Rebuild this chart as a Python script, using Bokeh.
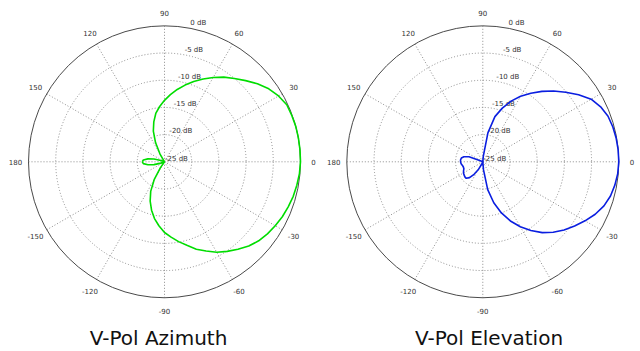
import numpy as np
from bokeh.plotting import figure
from bokeh.layouts import row
from bokeh.models import Label, Range1d
from bokeh.core.properties import value
from bokeh.embed import file_html
from bokeh.resources import INLINE

# ---------------- data ----------------
angles_deg = list(range(-180, 180, 5))

az_db = [
    -20.9, -21.1, -21.9, -23.0, -24.3, -25.6, -27.0, -29.0, -31.0, -30.0,   # -180 .. -135
    -26.0, -23.7, -21.2, -19.0, -17.3, -15.8, -14.4, -13.2, -12.0, -11.1,   # -130 .. -85
    -10.1, -9.1, -7.9, -6.9, -5.8, -4.9, -4.0, -3.1, -2.4, -1.9,            # -80 .. -35
    -1.5, -1.1, -0.8, -0.5, -0.3, -0.1,                                      # -30 .. -5
    0.0, 0.0, 0.0, 0.0, -0.1, -0.2, -0.8, -1.6, -2.7, -3.9,                  # 0 .. 45
    -5.0, -6.0, -7.1, -8.2, -9.3, -10.4, -11.5, -12.6, -13.7, -14.8,        # 50 .. 95
    -15.9, -17.4, -19.0, -21.1, -23.3, -26.0, -30.0, -32.0, -30.0, -28.0,   # 100 .. 145
    -26.5, -25.2, -24.3, -23.0, -21.9, -21.1,                                # 150 .. 175
]

el_db = [
    -20.9, -21.0, -21.2, -21.3, -21.3, -21.1, -20.9, -20.8, -20.7, -20.7,   # -180 .. -135
    -21.2, -22.2, -23.3, -24.5, -26.0, -28.0, -30.0, -31.0, -27.0, -23.5,   # -130 .. -85
    -19.8, -17.2, -15.0, -13.0, -11.2, -9.6, -8.0, -6.7, -5.5, -4.4,        # -80 .. -35
    -3.3, -2.2, -1.3, -0.7, -0.35, -0.1,                                     # -30 .. -5
    0.0, -0.02, -0.1, -0.25, -0.5, -1.1, -2.0, -3.5, -5.1, -6.6,            # 0 .. 45
    -8.1, -9.6, -11.1, -12.7, -14.5, -16.4, -19.6, -24.0, -28.0, -31.0,     # 50 .. 95
    -32.0, -33.0, -33.0, -32.0, -31.0, -30.0, -30.0, -29.0, -28.0, -27.0,   # 100 .. 145
    -26.0, -24.5, -22.3, -21.4, -21.0, -20.9,                                # 150 .. 175
]

ring_db = [0, -5, -10, -15, -20, -25]
ring_labels = ["0 dB", "-5 dB", "-10 dB", "-15 dB", "-20 dB", "-25 dB"]
spoke_deg = [0, 30, 60, 90, 120, 150, 180, -150, -120, -90, -60, -30]
spoke_labels = ["0", "30", "60", "90", "120", "150", "180", "-150", "-120", "-90", "-60", "-30"]
titles = ["V-Pol Azimuth", "V-Pol Elevation"]
db_floor = -25.0

# ---------------- layout ----------------
W, H = 320, 351
SCALE = 5.44          # pixels per dB of radius
CY = 161.3            # pixel row of the plot centre
FONT = "DejaVu Sans"


def panel(db, color, title, cx, title_dx):
    x0 = -cx / SCALE
    x1 = (W - cx) / SCALE
    y1 = CY / SCALE
    y0 = -(H - CY) / SCALE
    p = figure(width=W, height=H, output_backend="svg", toolbar_location=None,
               x_range=Range1d(x0, x1), y_range=Range1d(y0, y1),
               x_axis_location=None, y_axis_location=None,
               min_border=0, outline_line_color=None,
               background_fill_color="white", border_fill_color="white")
    p.grid.visible = False

    rmax = -db_floor
    # dotted rings
    rings = [d - db_floor for d in ring_db if d - db_floor > 0 and d < 0]
    p.circle(x=[0] * len(rings), y=[0] * len(rings), radius=rings,
             fill_color=None, line_color="#8c8c8c", line_dash="1 2", line_width=1)
    # spokes
    th = np.deg2rad(spoke_deg)
    p.segment(x0=[0] * len(th), y0=[0] * len(th),
              x1=list(rmax * np.cos(th)), y1=list(rmax * np.sin(th)),
              line_color="#8c8c8c", line_dash="1 2", line_width=1)
    # outer circle
    p.circle(x=[0], y=[0], radius=[rmax], fill_color=None,
             line_color="#4a4a4a", line_width=1)

    # angle labels
    rl = 27.4
    p.text(x=list(rl * np.cos(th)), y=list(rl * np.sin(th)), text=spoke_labels,
           text_font=value(FONT), text_font_size="7px", text_color="#333333",
           text_align="center", text_baseline="middle")
    # dB labels
    rr = np.array([d - db_floor for d in ring_db])
    p.text(x=list(2.2 + 0.16 * rr), y=list(rr + 0.6), text=ring_labels,
           text_font=value(FONT), text_font_size="7px", text_color="#333333",
           text_align="center", text_baseline="middle")

    # pattern
    r = np.clip(np.array(db) - db_floor, 0, None)
    a = np.deg2rad(angles_deg)
    xs = list(r * np.cos(a)) + [r[0] * np.cos(a[0])]
    ys = list(r * np.sin(a)) + [r[0] * np.sin(a[0])]
    p.line(xs, ys, line_color=color, line_width=1.6)

    p.text(x=[title_dx], y=[-(337.0 - CY) / SCALE], text=[title],
           text_font=value(FONT), text_font_size="20px", text_color="#111111",
           text_align="center", text_baseline="middle")
    return p


left = panel(az_db, "#00dd00", titles[0], 164.0, -1.1)
right = panel(el_db, "#0a1ee0", titles[1], 162.3, 1.14)

layout = row(left, right)
open("out.html", "w").write(file_html(layout, INLINE))
